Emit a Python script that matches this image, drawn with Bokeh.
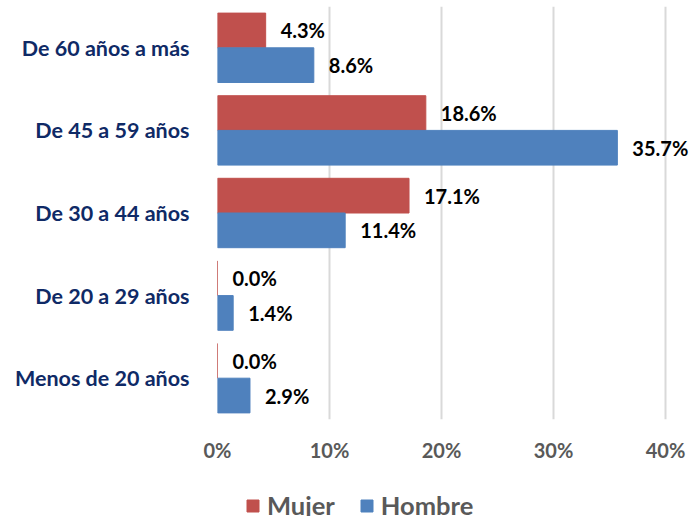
from bokeh.plotting import figure
from bokeh.layouts import column
from bokeh.models import ColumnDataSource, FactorRange, Range1d, Legend, LegendItem, FixedTicker
from bokeh.transform import dodge
from bokeh.core.properties import value
from bokeh.embed import file_html
from bokeh.resources import INLINE

categories = ["Menos de 20 años", "De 20 a 29 años", "De 30 a 44 años", "De 45 a 59 años", "De 60 años a más"]
mujer = [0.0, 0.0, 17.1, 18.6, 4.3]
hombre = [2.9, 1.4, 11.4, 35.7, 8.6]
x_ticks = [0, 10, 20, 30, 40]
series_names = ["Mujer", "Hombre"]

RED = "#C0504D"
BLUE = "#4F81BD"
FONT = "Lato"

src = ColumnDataSource(dict(
    cat=categories,
    mujer=mujer,
    hombre=hombre,
    mujer_lbl=[f"{v:.1f}%" for v in mujer],
    hombre_lbl=[f"{v:.1f}%" for v in hombre],
))

p = figure(width=692, height=475, output_backend="svg", toolbar_location=None,
           y_range=FactorRange(factors=categories, range_padding=0),
           x_range=Range1d(0, 42.41),
           min_border_left=217, min_border_right=0, min_border_top=6, min_border_bottom=56)
p.outline_line_color = None
p.background_fill_color = "white"
p.border_fill_color = "white"

bar_h = 0.42
p.hbar(y=dodge("cat", 0.21, range=p.y_range), right="mujer", left=0, height=bar_h,
       source=src, fill_color=RED, line_color=RED)
p.hbar(y=dodge("cat", -0.21, range=p.y_range), right="hombre", left=0, height=bar_h,
       source=src, fill_color=BLUE, line_color=BLUE)

for col, off in (("mujer", 0.21), ("hombre", -0.21)):
    p.text(x=col, y=dodge("cat", off, range=p.y_range), text=col + "_lbl", source=src,
           x_offset=15, text_baseline="middle", text_align="left",
           text_font=value(FONT), text_font_style="bold", text_font_size="20px",
           text_color="black")

# grid
p.ygrid.grid_line_color = None
p.xgrid.grid_line_color = "#D9D9D9"
p.xgrid.grid_line_width = 2
p.xgrid.ticker = FixedTicker(ticks=x_ticks)

# x axis
p.xaxis.ticker = FixedTicker(ticks=x_ticks)
p.xaxis.major_label_overrides = {t: f"{t}%" for t in x_ticks}
p.xaxis.axis_line_color = None
p.xaxis.major_tick_line_color = None
p.xaxis.minor_tick_line_color = None
p.xaxis.major_label_standoff = 12
p.xaxis.major_label_text_font = FONT
p.xaxis.major_label_text_font_style = "bold"
p.xaxis.major_label_text_font_size = "20px"
p.xaxis.major_label_text_color = "#595959"

# y axis
p.yaxis.axis_line_color = None
p.yaxis.major_tick_line_color = None
p.yaxis.minor_tick_line_color = None
p.yaxis.major_label_standoff = 22
p.yaxis.major_label_text_font = FONT
p.yaxis.major_label_text_font_style = "bold"
p.yaxis.major_label_text_font_size = "21.5px"
p.yaxis.major_label_text_color = "#0F2A66"

# legend strip below the chart (its renderers are hidden; they only supply legend swatches)
lg = figure(width=692, height=41, output_backend="svg", toolbar_location=None,
            x_range=Range1d(0, 1), y_range=FactorRange(factors=categories),
            min_border_left=0, min_border_right=0, min_border_top=0, min_border_bottom=0)
lg.axis.visible = False
lg.grid.visible = False
lg.outline_line_color = None
lg.border_fill_color = "white"
q_m = lg.hbar(y="cat", right="mujer", left=0, height=bar_h, source=src,
              fill_color=RED, line_color=RED, visible=False)
q_h = lg.hbar(y="cat", right="hombre", left=0, height=bar_h, source=src,
              fill_color=BLUE, line_color=BLUE, visible=False)
legend = Legend(items=[LegendItem(label=series_names[0], renderers=[q_m]),
                       LegendItem(label=series_names[1], renderers=[q_h])],
                orientation="horizontal", location=(28, -4),
                border_line_color=None, background_fill_alpha=0,
                inactive_fill_alpha=0,
                label_text_font=FONT, label_text_font_style="bold",
                label_text_font_size="25.5px", label_text_color="#595959",
                glyph_width=15, glyph_height=15, spacing=24, label_standoff=7,
                padding=0, margin=0)
lg.add_layout(legend, "center")

layout = column(p, lg, spacing=0)
open("out.html", "w").write(file_html(layout, INLINE))
